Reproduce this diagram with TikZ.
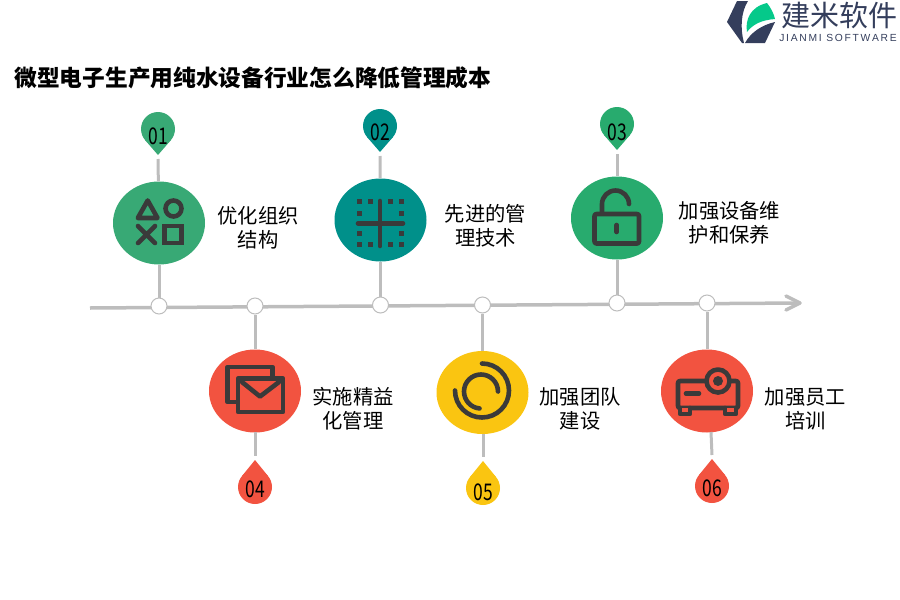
\documentclass[tikz,border=0pt]{standalone}
\usepackage{fontspec}
\setmainfont{Noto Sans CJK SC}
\newfontfamily\latinfont{Liberation Sans}
\usetikzlibrary{shapes.geometric}
\definecolor{pingreen}{HTML}{38A975}
\definecolor{pingreenb}{HTML}{28AB6E}
\definecolor{pinteal}{HTML}{00908A}
\definecolor{pinred}{HTML}{F25340}
\definecolor{pinyellow}{HTML}{FAC511}
\definecolor{icondark}{HTML}{3A3A3A}
\definecolor{axisgray}{HTML}{BDBDBD}
\definecolor{logonavy}{HTML}{343E5C}
\definecolor{logogreen}{HTML}{05C98A}
\tikzset{
  disc/.style={ellipse,minimum width=92pt,minimum height=83pt,inner sep=0pt,fill=#1},
  stop/.style={circle,draw=axisgray,fill=white,line width=1pt,minimum size=16pt,inner sep=0pt},
  drop/.style={circle,minimum size=34pt,inner sep=0pt,fill=#1},
  digits/.style={inner sep=0pt,font=\fontsize{23}{23}\selectfont},
  stem/.style={axisgray,line width=3pt},
  icon/.style={icondark,line width=4.6pt,line cap=round,line join=round},
  caption/.style={align=center,font=\fontsize{20.3}{24}\selectfont}
}
\begin{document}
\begin{tikzpicture}[x=1pt,y=-1pt]
\useasboundingbox (0,0) rectangle (900,600);
\node[anchor=west,font=\bfseries\fontsize{22.7}{24}\selectfont] (title) at (11,78) {微型电子生产用纯水设备行业怎么降低管理成本};
% logo
\fill[logonavy] (737,1) -- (748,1) .. controls (741,12) and (740,28) .. (744,43) -- (742,43) -- (727,22) -- cycle;
\fill[logonavy] (775,22) -- (765,43) -- (745,43) .. controls (751,32) and (762,25) .. (775,22) -- cycle;
\fill[logogreen] (747,32) .. controls (745,20) and (750,7) .. (767,3) .. controls (771,8) and (774,14) .. (775,19) .. controls (762,20) and (753,24) .. (747,32) -- cycle;
\node[text=logonavy,font=\fontsize{29}{29}\selectfont] (brand) at (839.5,15) {建米软件};
\node[text=logonavy,font=\latinfont\fontsize{10.3}{11}\selectfont] (brandsub) at (838,38) {J\,I\,A\,N\,M\,I\ \,S\,O\,F\,T\,W\,A\,R\,E};
% axis
\coordinate (axisstart) at (90,308);
\coordinate (axisend) at (800,303);
\draw[axisgray,line width=3.5pt] (axisstart) -- (axisend);
\draw[axisgray,line width=3.5pt,line cap=round,line join=round] (786,296) -- (axisend) -- (786,310);
% stems and discs
\foreach \name/\x/\y/\axisy/\col in {a/159/223/306/pingreen,b/380.5/220/305/pinteal,c/617/218/303/pingreenb,d/255/391/306/pinred,e/482.5/392.5/305/pinyellow,f/707/391/303/pinred}{
  \node[disc=\col] (disc\name) at (\x,\y) {};
  \node[stop] (stop\name) at (\x,\axisy) {};
  \draw[stem] (disc\name) -- (stop\name);
}
% pins above
\foreach \name/\x/\y/\dy/\col/\num in {a/158/129/7/pingreen/01,b/380/126/6/pinteal/02,c/617/124/8/pingreenb/03}{
  \fill[\col] (\x,\y+26) -- (\x+13,\y+11) -- (\x-13,\y+11) -- cycle;
  \node[drop=\col] (pin\name) at (\x,\y) {};
  \node[digits] (num\name) at (\x+0.5,\y+\dy) {\scalebox{0.76}[1]{\num}};
  \coordinate (gap\name) at (\x,\y+30);
  \draw[stem] (gap\name) -- (disc\name);
}
% drops below
\foreach \name/\x/\y/\dy/\col/\num in {d/255/487/2/pinred/04,e/483/488/4/pinyellow/05,f/712/486/2/pinred/06}{
  \fill[\col] (\x,\y-27) -- (\x+13,\y-11) -- (\x-13,\y-11) -- cycle;
  \node[drop=\col] (pin\name) at (\x,\y) {};
  \node[digits] (num\name) at (\x+0.5,\y+\dy) {\scalebox{0.76}[1]{\num}};
  \coordinate (gap\name) at (\x,\y-31);
}
\draw[stem] (255,432) -- (gapd);
\draw[stem] (483,434) -- (gape);
\draw[stem] (711,432) -- (gapf);
% captions
\node[caption] (texta) at (258,228) {优化组织\\结构};
\node[caption] (textb) at (485.5,226) {先进的管\\理技术};
\node[caption] (textc) at (729.5,223) {加强设备维\\护和保养};
\node[caption] (textd) at (353,409) {实施精益\\化管理};
\node[caption] (texte) at (580,409) {加强团队\\建设};
\node[caption] (textf) at (805.5,409) {加强员工\\培训};
% icon 1
\draw[icon] (147.7,200.5) -- (157.5,218) -- (137.8,218) -- cycle;
\draw[icon] (173.5,208.5) circle[radius=8];
\draw[icon] (138,226) -- (155,243) (155,226) -- (138,243);
\draw[icon,line cap=butt,line join=miter] (164.5,226) rectangle (181.5,243);
% icon 2
\draw[icon] (380,201) -- (380,246) (358,223.3) -- (403,223.3);
\foreach \x in {359.5,370,390,401.7}{
  \fill[icondark] (\x-2.5,199.2) rectangle +(5,5);
  \fill[icondark] (\x-2.5,241.5) rectangle +(5,5);
}
\foreach \x in {359.5,401.7}{
  \fill[icondark] (\x-2.5,210.5) rectangle +(5,5);
  \fill[icondark] (\x-2.5,230.5) rectangle +(5,5);
}
% icon 3
\draw[icon,rounded corners=2pt] (594.5,214) rectangle (639,243.5);
\draw[icon] (602,213) -- (602,204) arc[start angle=180,end angle=360,radius=13.5];
\draw[icon] (616.7,225) -- (616.7,232);
% icon 4
\draw[icon,line cap=butt,line join=round] (236,402) -- (227.5,402) -- (227.5,367) -- (272.5,367) -- (272.5,376);
\draw[icon] (238,378.5) rectangle (283,412);
\draw[icon] (242,382) -- (260,396.5) -- (279,382);
% icon 5
\draw[icon] (482,363.5) arc[start angle=270,end angle=540,radius=27];
\draw[icon] (498,391.5) arc[start angle=0,end angle=-265,radius=17];
% icon 6
\draw[icon,rounded corners=2pt] (678,381) rectangle (738,408);
\draw[icon,fill=pinred] (718,381) circle[radius=11.5];
\fill[icondark] (718,381) circle[radius=5];
\draw[icon] (686,393.5) -- (699,393.5);
\draw[icon,fill=pinred] (680,408) -- (680,414) -- (690,414) -- (690,408);
\draw[icon,fill=pinred] (725,408) -- (725,414) -- (736,414) -- (736,408);
\end{tikzpicture}
\end{document}
